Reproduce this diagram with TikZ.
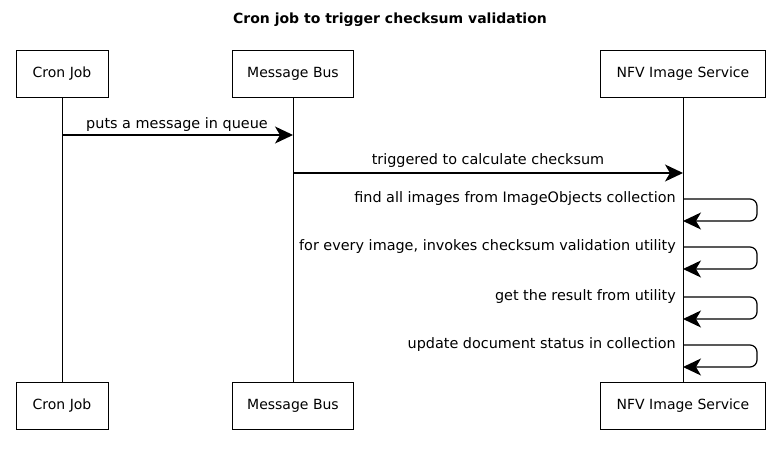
\documentclass[tikz,border=0pt]{standalone}
\usepackage{fontspec}
\setmainfont{DejaVu Sans}
\usetikzlibrary{arrows.meta}
\begin{document}
\begin{tikzpicture}[x=1pt,y=-1pt,
  actor/.style={draw, line width=0.8pt, minimum height=47pt, inner sep=4pt, font=\fontsize{14}{16}\selectfont},
  life/.style={line width=0.8pt},
  msg/.style={line width=1.2pt, -{Stealth[length=18pt,width=17pt,inset=5pt]}},
  selfmsg/.style={line width=1.2pt, rounded corners=7pt, -{Stealth[length=18pt,width=17pt,inset=5pt]}},
  lbl/.style={font=\fontsize{14.4}{17}\selectfont, inner sep=1pt},
  ttl/.style={font=\bfseries\fontsize{14}{16}\selectfont}]
\useasboundingbox (0,0) rectangle (780,452);
\node[ttl] (title) at (390,20) {Cron job to trigger checksum validation};

\node[actor, minimum width=92pt] (cjT) at (62,74) {Cron Job};
\node[actor, minimum width=121pt] (mbT) at (293,74) {Message Bus};
\node[actor, minimum width=165pt] (nfT) at (683,74) {NFV Image Service};
\node[actor, minimum width=92pt] (cjB) at (62,406) {Cron Job};
\node[actor, minimum width=121pt] (mbB) at (293,406) {Message Bus};
\node[actor, minimum width=165pt] (nfB) at (683,406) {NFV Image Service};

\draw[life] (cjT) -- (cjB);
\draw[life] (mbT) -- (mbB);
\draw[life] (nfT) -- (nfB);

% message 1
\coordinate (m1s) at (62,135);
\coordinate (m1e) at (293,135);
\draw[msg] (m1s) -- (m1e);
\node[lbl] (l1) at (177,125) {puts a message in queue};

% message 2
\coordinate (m2s) at (293,173);
\coordinate (m2e) at (683,173);
\draw[msg] (m2s) -- (m2e);
\node[lbl] (l2) at (488,161) {triggered to calculate checksum};

% self messages
\foreach \y/\t/\n in {199/{find all images from ImageObjects collection}/a,
                     247/{for every image, invokes checksum validation utility}/b,
                     297/{get the result from utility}/c,
                     345/{update document status in collection}/d}{
  \coordinate (s\n) at (683,\y);
  \coordinate (e\n) at (683,\y+22);
  \draw[selfmsg] (s\n) -- ++(74,0) |- (e\n);
  \node[lbl, anchor=east] (l\n) at (677,\y) {\t};
}
\end{tikzpicture}
\end{document}
